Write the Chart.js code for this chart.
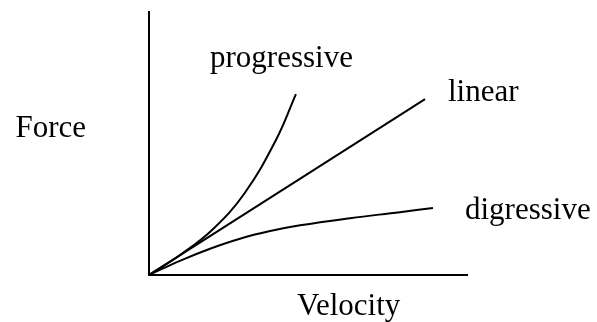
<!DOCTYPE html>
<html>
<head>
<meta charset="utf-8">
<script src="https://cdn.jsdelivr.net/npm/chart.js@4"></script>
<style>
  html, body { margin: 0; padding: 0; background: #fff; }
  #chart { display: block; }
</style>
</head>
<body>
<canvas id="chart" width="597" height="322"></canvas>
<script>
// curve data (velocity -> force)
const linearVelocity = [0, 86.8];
const linearForce = [0, 66.9];

const progressiveVelocity = [0, 10, 20, 30, 40, 46.2];
const progressiveForce = [0, 7.8, 17.3, 31, 51.5, 68.8];

const digressiveVelocity = [0, 9.7, 19.2, 28.6, 38.1, 47.5, 63.2, 78.9, 89.3];
const digressiveForce = [0, 5.4, 10.0, 13.8, 16.7, 18.9, 21.6, 23.9, 25.5];

const axisTitles = ['Velocity', 'Force'];
const curveNames = ['progressive', 'linear', 'digressive'];

const toPoints = (xs, ys) => xs.map((x, i) => ({ x: x, y: ys[i] }));

const lineStyle = {
  borderColor: '#000',
  borderWidth: 2,
  pointRadius: 0,
  tension: 0.4,
  fill: false
};

// draws the axis titles and curve names as canvas text
const labelPlugin = {
  id: 'labels',
  afterDraw(chart) {
    const ctx = chart.ctx;
    const a = chart.chartArea;
    ctx.save();
    ctx.fillStyle = '#000';
    ctx.font = '31px "Liberation Serif", "Times New Roman", serif';
    ctx.textBaseline = 'alphabetic';
    ctx.textAlign = 'left';
    ctx.fillText(axisTitles[0], 297, a.bottom + 40);
    ctx.textAlign = 'right';
    ctx.fillText(axisTitles[1], 86, 137);
    ctx.textAlign = 'left';
    ctx.fillText(curveNames[0], 210, 67);
    ctx.fillText(curveNames[1], 448, 101);
    ctx.fillText(curveNames[2], 465, 219);
    ctx.restore();
  }
};

new Chart(document.getElementById('chart'), {
  type: 'line',
  data: {
    datasets: [
      Object.assign({ label: curveNames[0], data: toPoints(progressiveVelocity, progressiveForce) }, lineStyle),
      Object.assign({ label: curveNames[1], data: toPoints(linearVelocity, linearForce) }, lineStyle, { tension: 0 }),
      Object.assign({ label: curveNames[2], data: toPoints(digressiveVelocity, digressiveForce) }, lineStyle)
    ]
  },
  options: {
    responsive: false,
    animation: false,
    layout: { padding: { left: 149, right: 130, top: 12, bottom: 47 } },
    plugins: {
      legend: { display: false },
      tooltip: { enabled: false },
      title: { display: false }
    },
    scales: {
      x: {
        type: 'linear',
        min: 0,
        max: 100,
        grid: { display: false },
        ticks: { display: false },
        border: { display: true, color: '#000', width: 2 },
        afterFit: s => { s.height = 0; }
      },
      y: {
        type: 'linear',
        min: 0,
        max: 100,
        grid: { display: false },
        ticks: { display: false },
        border: { display: true, color: '#000', width: 2 },
        afterFit: s => { s.width = 0; }
      }
    }
  },
  plugins: [labelPlugin]
});
</script>
</body>
</html>
